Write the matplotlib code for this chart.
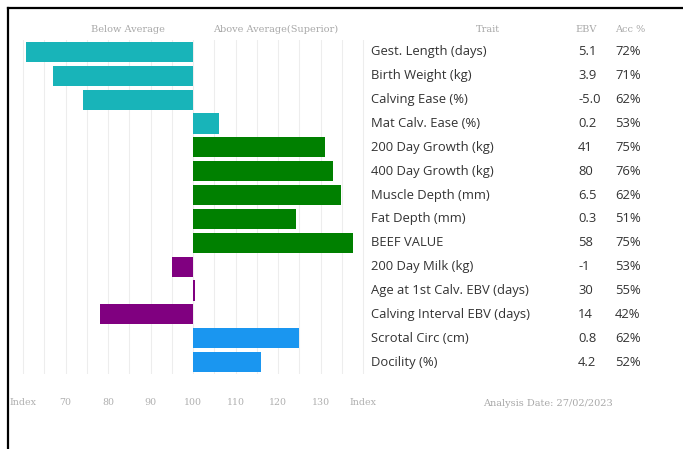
import matplotlib
matplotlib.use("Agg")
import matplotlib.pyplot as plt
from matplotlib.ticker import MultipleLocator
from matplotlib.transforms import blended_transform_factory
from matplotlib.lines import Line2D

traits = ["Gest. Length (days)", "Birth Weight (kg)", "Calving Ease (%)", "Mat Calv. Ease (%)",
          "200 Day Growth (kg)", "400 Day Growth (kg)", "Muscle Depth (mm)", "Fat Depth (mm)",
          "BEEF VALUE", "200 Day Milk (kg)", "Age at 1st Calv. EBV (days)",
          "Calving Interval EBV (days)", "Scrotal Circ (cm)", "Docility (%)"]
ebv = ["5.1", "3.9", "-5.0", "0.2", "41", "80", "6.5", "0.3", "58", "-1", "30", "14", "0.8", "4.2"]
acc = ["72%", "71%", "62%", "53%", "75%", "76%", "62%", "51%", "75%", "53%", "55%", "42%", "62%", "52%"]
index_vals = [60.6, 67, 74.1, 106, 131, 132.9, 134.9, 124.2, 137.7, 95, 100.5, 78.1, 124.9, 116]
groups = ["calving", "calving", "calving", "calving", "growth", "growth", "growth", "growth",
          "growth", "maternal", "maternal", "maternal", "fertility", "fertility"]
group_colors = {"calving": "#18b4b9", "growth": "#008000", "maternal": "#800080", "fertility": "#1a96f0"}
tick_vals = [60, 70, 80, 90, 100, 110, 120, 130, 140]
tick_labels = ["Index", "70", "80", "90", "100", "110", "120", "130", "Index"]
baseline = 100

W, H = 683, 449
fig = plt.figure(figsize=(W / 100, H / 100), dpi=100)
fig.patch.set_facecolor("white")

left_px, right_px, top_px, bot_px = 10, 365, 40, 374
ax = fig.add_axes([left_px / W, 1 - bot_px / H, (right_px - left_px) / W, (bot_px - top_px) / H])
scale = 4.25
ax.set_xlim(baseline - (193 - left_px) / scale, baseline + (right_px - 193) / scale)
n = len(traits)
ax.set_ylim(n - 0.5, -0.5)

for i, v in enumerate(index_vals):
    ax.barh(i, v - baseline, left=baseline, height=0.84, color=group_colors[groups[i]], zorder=3)

ax.xaxis.set_minor_locator(MultipleLocator(5))
ax.grid(axis="x", which="both", color="#ededed", linewidth=0.8, zorder=0)
ax.set_yticks([])
ax.set_xticks(tick_vals)
ax.set_xticklabels(tick_labels, fontsize=6.8, color="#b0b0b0", family="DejaVu Serif")
ax.tick_params(axis="x", which="both", length=0, pad=17)
for s in ax.spines.values():
    s.set_visible(False)

font = "Open Sans"
fs = 9.4
tr = blended_transform_factory(fig.transFigure, ax.transData)
for i in range(n):
    ax.text(371 / W, i, traits[i], transform=tr, fontsize=fs, color="#333333",
            family=font, va="center", ha="left")
    ax.text(578 / W, i, ebv[i], transform=tr, fontsize=fs, color="#333333",
            family=font, va="center", ha="left")
    ax.text(615 / W, i, acc[i], transform=tr, fontsize=fs, color="#333333",
            family=font, va="center", ha="left")

hy = 1 - 29 / H
hdr = dict(fontsize=7, color="#a8a8a8", family="DejaVu Serif", va="center")
fig.text(128 / W, hy, "Below Average", ha="center", **hdr)
fig.text(276 / W, hy, "Above Average(Superior)", ha="center", **hdr)
fig.text(488 / W, hy, "Trait", ha="center", **hdr)
fig.text(586 / W, hy, "EBV", ha="center", **hdr)
fig.text(630 / W, hy, "Acc %", ha="center", **hdr)
fig.text(548 / W, 1 - 403 / H, "Analysis Date: 27/02/2023", ha="center", **hdr)

fig.add_artist(Line2D([8 / W, 1], [1 - 8 / H, 1 - 8 / H], color="black", linewidth=1.6, transform=fig.transFigure))
fig.add_artist(Line2D([8 / W, 8 / W], [1 - 8 / H, 0], color="black", linewidth=1.6, transform=fig.transFigure))

fig.savefig("out.png", dpi=100, facecolor="white")
